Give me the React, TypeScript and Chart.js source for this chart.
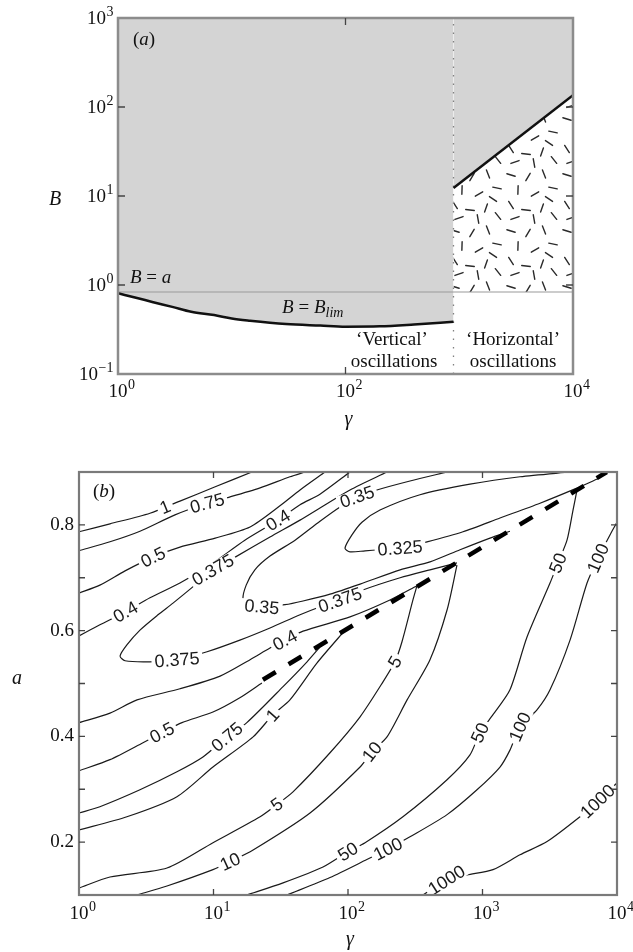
import React, { useEffect, useRef } from 'react';
import { Chart, registerables } from 'chart.js';

Chart.register(...registerables);

const SERIF = '"Liberation Serif", "Times New Roman", Times, serif';
const SANS = '"Liberation Sans", Arial, Helvetica, sans-serif';
const INK = '#111111';

// ---------------- Panel (a) data ----------------
const gammaLim = [1, 1.5, 2, 3, 4.4, 7, 10, 14.5, 30, 60, 100, 200, 400, 890];
const bLim = [0.807, 0.71, 0.645, 0.568, 0.5, 0.459, 0.42, 0.397, 0.365, 0.35, 0.34, 0.343, 0.36, 0.386];
const gammaUpper = [890, 10000];
const bUpper = [12.3, 136];
const bEqualsA = 0.834;
const gammaSplit = 890;
const xTicksA = [1, 100, 10000];
const yTicksA = [0.1, 1, 10, 100, 1000];

// ---------------- Panel (b) data: contour lines [gamma, a] ----------------
const c1Up = [[1, 0.787], [1.7, 0.802], [3.37, 0.822], [5.63, 0.845], [10.3, 0.872], [19.3, 0.9]];
const c075Up = [[1, 0.751], [1.7, 0.768], [2.84, 0.788], [5.17, 0.819], [8.95, 0.841], [13.3, 0.853], [22.2, 0.87], [37, 0.891], [47.9, 0.9]];
const c05Up = [[1, 0.671], [1.43, 0.686], [2.2, 0.713], [3.55, 0.739], [5.63, 0.758], [10.3, 0.775], [18.7, 0.796], [31.2, 0.836], [44, 0.866], [67.5, 0.9]];
const c04Up = [[1, 0.59], [1.43, 0.611], [2.2, 0.635], [3.37, 0.662], [5.63, 0.69], [9.42, 0.724], [17.1, 0.771], [30.2, 0.809], [44, 0.838], [61.9, 0.858], [103.5, 0.9]];
const c0375 = [[195, 0.9], [103.5, 0.866], [61.9, 0.832], [44, 0.809], [26.3, 0.777], [14.5, 0.739], [9.91, 0.715], [7.28, 0.686], [5, 0.652], [3.87, 0.63], [2.84, 0.601], [2.27, 0.573], [2.02, 0.552], [2.2, 0.543], [3.37, 0.541], [5.35, 0.545], [8.95, 0.56], [15.7, 0.582], [26.3, 0.605], [44, 0.63], [65.2, 0.647], [87.3, 0.658], [123, 0.675], [244, 0.7], [407, 0.715], [646, 0.728]];
const c035 = [[545, 0.9], [289, 0.883], [164, 0.866], [117, 0.853], [87.3, 0.834], [61.9, 0.807], [40.4, 0.771], [26.3, 0.741], [20.3, 0.715], [17.5, 0.686], [16.6, 0.658], [18.7, 0.647], [22.9, 0.645], [34, 0.649], [46.3, 0.656], [73.5, 0.669], [123, 0.688], [244, 0.715], [407, 0.73], [681, 0.753], [1137, 0.775], [1600, 0.788]];
const c0325 = [[4475, 0.9], [1900, 0.891], [807, 0.877], [343, 0.857], [173, 0.828], [127, 0.805], [107, 0.781], [95, 0.756], [103.5, 0.749], [134, 0.751], [173, 0.753], [244, 0.756], [387, 0.768], [716, 0.787], [1349, 0.813], [2678, 0.841], [4875, 0.868], [7477, 0.889]];
const c04Low = [[1, 0.426], [1.7, 0.444], [2.7, 0.469], [5.63, 0.49], [11.2, 0.514], [18.7, 0.545], [26.3, 0.567], [34, 0.582], [46.3, 0.599], [103.5, 0.626], [205, 0.658], [326, 0.685]];
const c05Low = [[1, 0.335], [1.7, 0.356], [2.99, 0.388], [4.14, 0.407], [5.83, 0.426], [9.91, 0.446], [15.7, 0.473], [22.9, 0.501]];
const c075Low = [[1, 0.255], [1.43, 0.267], [2.84, 0.299], [5.35, 0.333], [8.35, 0.361], [12.6, 0.399], [17.7, 0.426], [32.9, 0.494], [49.6, 0.541], [61.9, 0.569]];
const c1Low = [[1, 0.223], [2.27, 0.248], [5.35, 0.286], [9.91, 0.342], [19.7, 0.399], [27.7, 0.441], [37, 0.469], [58.9, 0.539], [98.3, 0.605]];
const c5 = [[1, 0.113], [1.7, 0.134], [4.51, 0.151], [9.91, 0.199], [22.2, 0.248], [29.6, 0.271], [39, 0.295], [73.5, 0.369], [123, 0.437], [182, 0.503], [223, 0.541], [252, 0.579], [304, 0.658], [326, 0.685]];
const c10 = [[2.7, 0.1], [4.51, 0.117], [9.91, 0.148], [13.3, 0.163], [19.7, 0.185], [52.2, 0.255], [123, 0.342], [151, 0.371], [195, 0.399], [275, 0.469], [407, 0.545], [545, 0.639], [646, 0.724]];
const c50 = [[17.7, 0.1], [32.9, 0.123], [65.2, 0.153], [100, 0.182], [134, 0.199], [256, 0.248], [545, 0.318], [807, 0.365], [958, 0.407], [1197, 0.441], [1600, 0.488], [2143, 0.588], [3177, 0.69], [3642, 0.728], [4249, 0.771], [4710, 0.828], [5044, 0.866]];
const c100 = [[35.2, 0.1], [73.5, 0.133], [138, 0.167], [198, 0.187], [289, 0.21], [545, 0.252], [910, 0.299], [1349, 0.342], [1600, 0.374], [1900, 0.418], [2541, 0.45], [3177, 0.488], [4475, 0.582], [5987, 0.69], [7223, 0.737], [8870, 0.781], [10000, 0.805]];
const c1000 = [[361, 0.1], [545, 0.129], [767, 0.138], [1197, 0.148], [1900, 0.176], [3020, 0.201], [5310, 0.248], [7101, 0.276], [9340, 0.305], [10000, 0.312]];
const boundaryGamma = [23.3, 8400];
const boundaryA = [0.507, 0.9];
const xTicksB = [1, 10, 100, 1000, 10000];
const yLabelsB = [0.2, 0.4, 0.6, 0.8];
const yMarksB = [0.2, 0.3, 0.4, 0.5, 0.6, 0.7, 0.8];

const contours: Record<string, number[][]> = {
  c1Up, c075Up, c05Up, c04Up, c0375, c035, c0325, c04Low, c05Low, c075Low, c1Low, c5, c10, c50, c100, c1000,
};

// contour labels: [contour, text, gamma, a]
const contourLabels: [string, string, number, number][] = [
  ['c1Up', '1', 4.36, 0.834],
  ['c075Up', '0.75', 8.95, 0.843],
  ['c05Up', '0.5', 3.55, 0.739],
  ['c04Up', '0.4', 2.2, 0.637],
  ['c0375', '0.375', 9.91, 0.715],
  ['c04Up', '0.4', 30.2, 0.809],
  ['c035', '0.35', 117, 0.853],
  ['c0325', '0.325', 244, 0.756],
  ['c035', '0.35', 22.9, 0.645],
  ['c0375', '0.375', 5.35, 0.545],
  ['c0375', '0.375', 87.3, 0.658],
  ['c04Low', '0.4', 34, 0.582],
  ['c05Low', '0.5', 4.14, 0.407],
  ['c075Low', '0.75', 12.6, 0.399],
  ['c1Low', '1', 27.2, 0.441],
  ['c5', '5', 29.6, 0.271],
  ['c5', '5', 223, 0.541],
  ['c10', '10', 13.3, 0.163],
  ['c10', '10', 151, 0.371],
  ['c50', '50', 100, 0.182],
  ['c50', '50', 958, 0.407],
  ['c50', '50', 3642, 0.728],
  ['c100', '100', 198, 0.187],
  ['c100', '100', 1900, 0.418],
  ['c100', '100', 7223, 0.737],
  ['c1000', '1000', 545, 0.127],
  ['c1000', '1000', 7223, 0.276],
];

// ---------------- helpers ----------------
type Seg = { t: string; f: string; dy?: number };
const R = (s: number) => `${s}px ${SERIF}`;
const I = (s: number) => `italic ${s}px ${SERIF}`;

function drawRich(ctx: CanvasRenderingContext2D, segs: Seg[], x: number, y: number, align: 'left' | 'center') {
  ctx.save();
  ctx.textBaseline = 'middle';
  ctx.textAlign = 'left';
  ctx.fillStyle = INK;
  let w = 0;
  for (const s of segs) { ctx.font = s.f; w += ctx.measureText(s.t).width; }
  let cx = align === 'center' ? x - w / 2 : x;
  for (const s of segs) {
    ctx.font = s.f;
    ctx.fillText(s.t, cx, y + (s.dy || 0));
    cx += ctx.measureText(s.t).width;
  }
  ctx.restore();
}

// power-of-ten tick label: "10" with a raised exponent
function drawPow(ctx: CanvasRenderingContext2D, x: number, y: number, v: number, mode: 'center' | 'right') {
  const e = String(Math.round(Math.log10(v))).replace('-', '\u2212');
  ctx.save();
  ctx.fillStyle = INK;
  ctx.textBaseline = 'middle';
  ctx.textAlign = 'left';
  ctx.font = R(19);
  const wb = ctx.measureText('10').width;
  ctx.font = R(14);
  const we = ctx.measureText(e).width;
  const x0 = mode === 'center' ? x - wb / 2 : x - wb - we - 1;
  ctx.font = R(19);
  ctx.fillText('10', x0, y);
  ctx.font = R(14);
  ctx.fillText(e, x0 + wb + 0.5, y - 7);
  ctx.restore();
}

function drawTickMarks(ctx: CanvasRenderingContext2D, ca: any, xs: any, ys: any, xVals: number[], yVals: number[], len: number) {
  ctx.save();
  ctx.strokeStyle = '#444';
  ctx.lineWidth = 1.3;
  ctx.beginPath();
  for (const v of xVals) {
    const x = xs.getPixelForValue(v);
    ctx.moveTo(x, ca.bottom); ctx.lineTo(x, ca.bottom - len);
    ctx.moveTo(x, ca.top); ctx.lineTo(x, ca.top + len);
  }
  for (const v of yVals) {
    const y = ys.getPixelForValue(v);
    ctx.moveTo(ca.left, y); ctx.lineTo(ca.left + len, y);
    ctx.moveTo(ca.right, y); ctx.lineTo(ca.right - len, y);
  }
  ctx.stroke();
  ctx.restore();
}

function makeTexture(): CanvasPattern | string {
  const S = 56;
  const c = document.createElement('canvas');
  c.width = S; c.height = S;
  const g = c.getContext('2d');
  if (!g) return '#fff';
  g.fillStyle = '#ffffff';
  g.fillRect(0, 0, S, S);
  g.strokeStyle = '#2a2a2a';
  g.lineWidth = 1.4;
  g.lineCap = 'round';
  const marks = [[7, 7, 0.3], [24, 9, 2.1], [40, 6, 1.2], [49, 20, 0.2], [14, 22, 1.6], [31, 26, 2.6], [7, 37, 1.0], [22, 42, 0.1], [38, 40, 1.9], [50, 48, 0.9], [30, 51, 1.4], [11, 50, 2.8], [45, 31, 0.6]];
  for (const [x, y, t] of marks) {
    const dx = Math.cos(t) * 4.3, dy = Math.sin(t) * 4.3;
    g.beginPath(); g.moveTo(x - dx, y - dy); g.lineTo(x + dx, y + dy); g.stroke();
  }
  return g.createPattern(c, 'repeat') || '#fff';
}

const xy = (gs: number[], vs: number[]) => gs.map((g, i) => ({ x: g, y: vs[i] }));
const pairs = (p: number[][]) => p.map(([g, a]) => ({ x: g, y: a }));

type Note = { segs: Seg[]; g: number; b: number; align: 'left' | 'center' };
const notesA: Note[] = [
  { segs: [{ t: '(', f: R(19) }, { t: 'a', f: I(19) }, { t: ')', f: R(19) }], g: 1.355, b: 566, align: 'left' },
  { segs: [{ t: 'B', f: I(19) }, { t: ' = ', f: R(19) }, { t: 'a', f: I(19) }], g: 1.275, b: 1.2, align: 'left' },
  { segs: [{ t: 'B', f: I(19) }, { t: ' = ', f: R(19) }, { t: 'B', f: I(19) }, { t: 'lim', f: I(14), dy: 5 }], g: 27.7, b: 0.552, align: 'left' },
  { segs: [{ t: '\u2018Vertical\u2019', f: R(19) }], g: 256, b: 0.241, align: 'center' },
  { segs: [{ t: 'oscillations', f: R(19) }], g: 267, b: 0.136, align: 'center' },
  { segs: [{ t: '\u2018Horizontal\u2019', f: R(19) }], g: 2970, b: 0.241, align: 'center' },
  { segs: [{ t: 'oscillations', f: R(19) }], g: 2970, b: 0.136, align: 'center' },
];
const notesB: Note[] = [
  { segs: [{ t: '(', f: R(19) }, { t: 'b', f: I(19) }, { t: ')', f: R(19) }], g: 1.27, b: 0.862, align: 'left' },
];

const panelAPlugin = {
  id: 'panelA',
  afterDatasetsDraw(chart: any) {
    const { ctx, chartArea: ca, scales } = chart;
    const xs = scales.x, ys = scales.y;
    ctx.save();
    ctx.strokeStyle = '#8c8c8c';
    ctx.lineWidth = 2.5;
    ctx.strokeRect(ca.left, ca.top, ca.right - ca.left, ca.bottom - ca.top);
    ctx.restore();
    drawTickMarks(ctx, ca, xs, ys, xTicksA.slice(1, -1), yTicksA.slice(1, -1), 7);
    for (const t of xs.ticks) drawPow(ctx, xs.getPixelForValue(t.value), ca.bottom + 18, t.value, 'center');
    for (const t of ys.ticks) drawPow(ctx, ca.left - 4, ys.getPixelForValue(t.value) + 1, t.value, 'right');
    for (const n of notesA) drawRich(ctx, n.segs, xs.getPixelForValue(n.g), ys.getPixelForValue(n.b), n.align);
    drawRich(ctx, [{ t: 'B', f: I(20) }], ca.left - 63, (ca.top + ca.bottom) / 2 + 4, 'center');
    drawRich(ctx, [{ t: '\u03b3', f: I(20) }], (ca.left + ca.right) / 2 + 3, ca.bottom + 46, 'center');
  },
};

const panelBPlugin = {
  id: 'panelB',
  afterDatasetsDraw(chart: any) {
    const { ctx, chartArea: ca, scales } = chart;
    const xs = scales.x, ys = scales.y;
    // contour labels
    ctx.save();
    ctx.font = `18px ${SANS}`;
    for (const [key, text, g, a] of contourLabels) {
      const pts = contours[key].map(([gg, aa]) => [xs.getPixelForValue(gg), ys.getPixelForValue(aa)]);
      const lx = xs.getPixelForValue(g), ly = ys.getPixelForValue(a);
      let best = Infinity, bx = lx, by = ly, ang = 0;
      for (let i = 0; i < pts.length - 1; i++) {
        const [x1, y1] = pts[i], [x2, y2] = pts[i + 1];
        const dx = x2 - x1, dy = y2 - y1;
        const L = dx * dx + dy * dy;
        let t = L ? ((lx - x1) * dx + (ly - y1) * dy) / L : 0;
        t = Math.max(0, Math.min(1, t));
        const px = x1 + t * dx, py = y1 + t * dy;
        const d = (px - lx) ** 2 + (py - ly) ** 2;
        if (d < best) { best = d; bx = px; by = py; ang = Math.atan2(dy, dx); }
      }
      if (ang > Math.PI / 2) ang -= Math.PI;
      if (ang < -Math.PI / 2) ang += Math.PI;
      const w = ctx.measureText(text).width;
      ctx.save();
      ctx.translate(bx, by);
      ctx.rotate(ang);
      ctx.fillStyle = '#ffffff';
      ctx.fillRect(-w / 2 - 3, -7, w + 6, 14);
      ctx.fillStyle = '#1a1a1a';
      ctx.textAlign = 'center';
      ctx.textBaseline = 'middle';
      ctx.fillText(text, 0, 1);
      ctx.restore();
    }
    ctx.restore();
    ctx.save();
    ctx.strokeStyle = '#7a7a7a';
    ctx.lineWidth = 2.2;
    ctx.strokeRect(ca.left, ca.top, ca.right - ca.left, ca.bottom - ca.top);
    ctx.restore();
    drawTickMarks(ctx, ca, xs, ys, xTicksB.slice(1, -1), yMarksB, 6);
    for (const t of xs.ticks) drawPow(ctx, xs.getPixelForValue(t.value), ca.bottom + 19, t.value, 'center');
    for (const n of notesB) drawRich(ctx, n.segs, xs.getPixelForValue(n.g), ys.getPixelForValue(n.b), n.align);
    drawRich(ctx, [{ t: 'a', f: I(20) }], ca.left - 62, (ca.top + ca.bottom) / 2 - 5, 'center');
    drawRich(ctx, [{ t: '\u03b3', f: I(20) }], (ca.left + ca.right) / 2 + 2, ca.bottom + 45, 'center');
  },
};

const tickFont = { family: SERIF, size: 19 };

function configA(texture: CanvasPattern | string): any {
  const line = (data: any[], extra: any) => ({ data, pointRadius: 0, fill: false, borderColor: INK, borderWidth: 2.5, ...extra });
  return {
    type: 'line',
    data: {
      datasets: [
        line(xy(gammaLim, bLim), { tension: 0.4, cubicInterpolationMode: 'monotone' }),
        line(xy(gammaUpper, bUpper), {}),
        line([{ x: 1, y: bEqualsA }, { x: 10000, y: bEqualsA }], { borderColor: '#9a9a9a', borderWidth: 1.2 }),
        line([{ x: gammaSplit, y: 0.1 }, { x: gammaSplit, y: 1000 }], { borderColor: '#808080', borderWidth: 1.3, borderDash: [1.5, 7] }),
        line(xy(gammaUpper, bUpper), { borderWidth: 0, fill: { value: bEqualsA }, backgroundColor: texture }),
        line(xy(gammaUpper, bUpper), { borderWidth: 0, fill: 'end', backgroundColor: '#d4d4d4' }),
        line(xy(gammaLim, bLim), { borderWidth: 0, fill: 'end', backgroundColor: '#d4d4d4', tension: 0.4, cubicInterpolationMode: 'monotone' }),
      ],
    },
    options: {
      responsive: false,
      animation: false,
      events: [],
      layout: { padding: { top: 18, right: 60, left: 0, bottom: 0 } },
      plugins: { legend: { display: false }, tooltip: { enabled: false } },
      scales: {
        x: {
          type: 'logarithmic', min: 1, max: 10000,
          grid: { display: false, drawTicks: false }, border: { display: false },
          ticks: { display: false, autoSkip: false },
          afterBuildTicks: (s: any) => { s.ticks = xTicksA.map((v) => ({ value: v })); },
          afterFit: (s: any) => { s.height = 66; },
        },
        y: {
          type: 'logarithmic', min: 0.1, max: 1000,
          grid: { display: false, drawTicks: false }, border: { display: false },
          ticks: { display: false, autoSkip: false },
          afterBuildTicks: (s: any) => { s.ticks = yTicksA.map((v) => ({ value: v })); },
          afterFit: (s: any) => { s.width = 118; },
        },
      },
    },
    plugins: [panelAPlugin],
  };
}

function configB(): any {
  const names = Object.keys(contours);
  const ds: any[] = [
    {
      data: xy(boundaryGamma, boundaryA), pointRadius: 0, fill: false, borderColor: '#000', borderWidth: 4.5,
      borderDash: [15, 15], borderCapStyle: 'butt',
    },
    ...names.map((k) => ({
      data: pairs(contours[k]), pointRadius: 0, fill: false, borderColor: '#1a1a1a', borderWidth: 1.2, tension: 0.25,
    })),
  ];
  return {
    type: 'line',
    data: { datasets: ds },
    options: {
      responsive: false,
      animation: false,
      events: [],
      layout: { padding: { top: 32, right: 16, left: 0, bottom: 0 } },
      plugins: { legend: { display: false }, tooltip: { enabled: false } },
      scales: {
        x: {
          type: 'logarithmic', min: 1, max: 10000,
          grid: { display: false, drawTicks: false }, border: { display: false },
          ticks: { display: false, autoSkip: false },
          afterBuildTicks: (s: any) => { s.ticks = xTicksB.map((v) => ({ value: v })); },
          afterFit: (s: any) => { s.height = 57; },
        },
        y: {
          type: 'linear', min: 0.1, max: 0.9,
          grid: { display: false, drawTicks: false }, border: { display: false },
          ticks: { font: tickFont, color: INK, padding: 5, autoSkip: false, callback: (v: number) => Number(v).toFixed(1) },
          afterBuildTicks: (s: any) => { s.ticks = yLabelsB.map((v) => ({ value: v })); },
          afterFit: (s: any) => { s.width = 79; },
        },
      },
    },
    plugins: [panelBPlugin],
  };
}

export default function App() {
  const refA = useRef<HTMLCanvasElement>(null);
  const refB = useRef<HTMLCanvasElement>(null);
  useEffect(() => {
    if (!refA.current || !refB.current) return;
    const chartA = new Chart(refA.current, configA(makeTexture()));
    const chartB = new Chart(refB.current, configB());
    return () => { chartA.destroy(); chartB.destroy(); };
  }, []);
  return (
    <div style={{ position: 'absolute', left: 0, top: 0, width: 633, height: 952, background: '#fff' }}>
      <canvas ref={refA} width={633} height={440} style={{ position: 'absolute', left: 0, top: 0, width: 633, height: 440 }} />
      <canvas ref={refB} width={633} height={512} style={{ position: 'absolute', left: 0, top: 440, width: 633, height: 512 }} />
    </div>
  );
}
